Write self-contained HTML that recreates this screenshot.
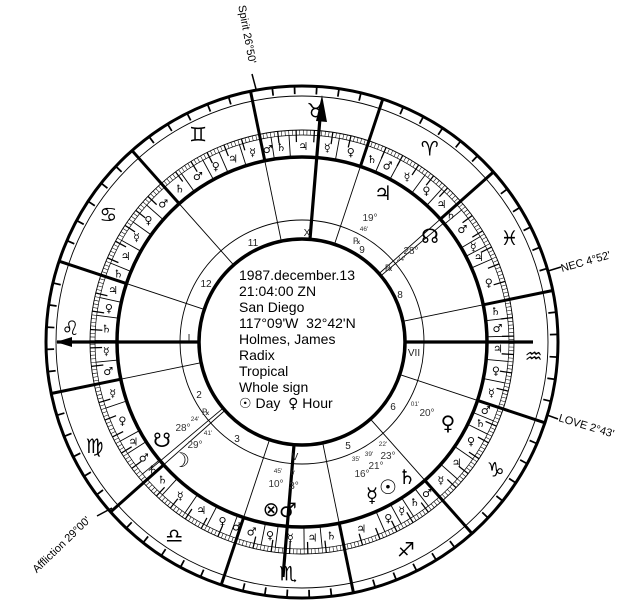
<!DOCTYPE html>
<html><head><meta charset="utf-8"><style>
html,body{margin:0;padding:0;background:#fff;width:641px;height:614px;overflow:hidden;}
svg{display:block;font-family:"Liberation Sans","DejaVu Sans",sans-serif;}
.g{font-family:"DejaVu Sans",sans-serif;}
</style></head><body>
<svg width="641" height="614" viewBox="0 0 641 614" xmlns="http://www.w3.org/2000/svg">
<defs>
<line id="sb" x1="185" y1="0" x2="256" y2="0" stroke="#000" stroke-width="3"/>
<line id="hc" x1="103" y1="0" x2="185" y2="0" stroke="#000" stroke-width="0.9"/>
<line id="td" x1="185" y1="0" x2="207" y2="0" stroke="#000" stroke-width="0.9"/>
</defs>
<g fill="none" stroke="#000">
<circle cx="302" cy="342" r="256" stroke-width="3"/>
<circle cx="302" cy="342" r="246" stroke-width="0.9"/>
<circle cx="302" cy="342" r="212" stroke-width="0.9"/>
<circle cx="302" cy="342" r="207" stroke-width="0.7"/>
<circle cx="302" cy="342" r="185" stroke-width="3.5"/>
<circle cx="302" cy="342" r="122" stroke-width="0.9"/>
<circle cx="302" cy="342" r="103" stroke-width="3.5"/>
<circle cx="302" cy="342" r="209.5" stroke-width="5" pathLength="360" stroke-dasharray="0.15 0.85" stroke-dashoffset="-0.33"/>
<circle cx="302" cy="342" r="206" stroke-width="12" pathLength="360" stroke-dasharray="0.35 4.65" stroke-dashoffset="-3.23"/>
<circle cx="302" cy="342" r="252" stroke-width="8" pathLength="360" stroke-dasharray="0.4 4.6" stroke-dashoffset="-3.2"/>
</g>
<g transform="translate(302 342) rotate(-41.6)">
<use href="#sb" transform="rotate(0)"/><use href="#sb" transform="rotate(-30)"/><use href="#sb" transform="rotate(-60)"/><use href="#sb" transform="rotate(-90)"/><use href="#sb" transform="rotate(-120)"/><use href="#sb" transform="rotate(-150)"/><use href="#sb" transform="rotate(-180)"/><use href="#sb" transform="rotate(-210)"/><use href="#sb" transform="rotate(-240)"/><use href="#sb" transform="rotate(-270)"/><use href="#sb" transform="rotate(-300)"/><use href="#sb" transform="rotate(-330)"/>
<use href="#hc" transform="rotate(0)"/><use href="#hc" transform="rotate(-30)"/><use href="#hc" transform="rotate(-60)"/><use href="#hc" transform="rotate(-90)"/><use href="#hc" transform="rotate(-120)"/><use href="#hc" transform="rotate(-150)"/><use href="#hc" transform="rotate(-180)"/><use href="#hc" transform="rotate(-210)"/><use href="#hc" transform="rotate(-240)"/><use href="#hc" transform="rotate(-270)"/><use href="#hc" transform="rotate(-300)"/><use href="#hc" transform="rotate(-330)"/>
<use href="#td" transform="rotate(-6)"/><use href="#td" transform="rotate(-12)"/><use href="#td" transform="rotate(-20)"/><use href="#td" transform="rotate(-25)"/>
<use href="#td" transform="rotate(-38)"/><use href="#td" transform="rotate(-44)"/><use href="#td" transform="rotate(-52)"/><use href="#td" transform="rotate(-57)"/>
<use href="#td" transform="rotate(-66)"/><use href="#td" transform="rotate(-72)"/><use href="#td" transform="rotate(-77)"/><use href="#td" transform="rotate(-84)"/>
<use href="#td" transform="rotate(-97)"/><use href="#td" transform="rotate(-103)"/><use href="#td" transform="rotate(-109)"/><use href="#td" transform="rotate(-116)"/>
<use href="#td" transform="rotate(-126)"/><use href="#td" transform="rotate(-131)"/><use href="#td" transform="rotate(-138)"/><use href="#td" transform="rotate(-144)"/>
<use href="#td" transform="rotate(-157)"/><use href="#td" transform="rotate(-167)"/><use href="#td" transform="rotate(-171)"/><use href="#td" transform="rotate(-178)"/>
<use href="#td" transform="rotate(-186)"/><use href="#td" transform="rotate(-194)"/><use href="#td" transform="rotate(-201)"/><use href="#td" transform="rotate(-208)"/>
<use href="#td" transform="rotate(-217)"/><use href="#td" transform="rotate(-221)"/><use href="#td" transform="rotate(-229)"/><use href="#td" transform="rotate(-234)"/>
<use href="#td" transform="rotate(-252)"/><use href="#td" transform="rotate(-257)"/><use href="#td" transform="rotate(-261)"/><use href="#td" transform="rotate(-266)"/>
<use href="#td" transform="rotate(-277)"/><use href="#td" transform="rotate(-284)"/><use href="#td" transform="rotate(-292)"/><use href="#td" transform="rotate(-296)"/>
<use href="#td" transform="rotate(-307)"/><use href="#td" transform="rotate(-313)"/><use href="#td" transform="rotate(-320)"/><use href="#td" transform="rotate(-325)"/>
<use href="#td" transform="rotate(-342)"/><use href="#td" transform="rotate(-346)"/><use href="#td" transform="rotate(-349)"/><use href="#td" transform="rotate(-358)"/>
<line x1="103" y1="0" x2="185" y2="0" stroke="#000" stroke-width="0.9" transform="rotate(-358.4)"/>
<line x1="103" y1="0" x2="200" y2="0" stroke="#000" stroke-width="0.9" transform="rotate(-178.4)"/>
<g class="g" font-size="20" text-anchor="middle">
<text transform="rotate(-15) translate(232 0) rotate(56.6)" dy="0.35em">♈&#xFE0E;</text>
<text transform="rotate(-45) translate(232 0) rotate(86.6)" dy="0.35em">♉&#xFE0E;</text>
<text transform="rotate(-75) translate(232 0) rotate(116.6)" dy="0.35em">♊&#xFE0E;</text>
<text transform="rotate(-105) translate(232 0) rotate(146.6)" dy="0.35em">♋&#xFE0E;</text>
<text transform="rotate(-135) translate(232 0) rotate(176.6)" dy="0.35em">♌&#xFE0E;</text>
<text transform="rotate(-165) translate(232 0) rotate(206.6)" dy="0.35em">♍&#xFE0E;</text>
<text transform="rotate(-195) translate(232 0) rotate(236.6)" dy="0.35em">♎&#xFE0E;</text>
<text transform="rotate(-225) translate(232 0) rotate(266.6)" dy="0.35em">♏&#xFE0E;</text>
<text transform="rotate(-255) translate(232 0) rotate(296.6)" dy="0.35em">♐&#xFE0E;</text>
<text transform="rotate(-285) translate(232 0) rotate(326.6)" dy="0.35em">♑&#xFE0E;</text>
<text transform="rotate(-315) translate(232 0) rotate(356.6)" dy="0.35em">♒&#xFE0E;</text>
<text transform="rotate(-345) translate(232 0) rotate(386.6)" dy="0.35em">♓&#xFE0E;</text>
</g>
<g class="g" font-size="11" text-anchor="middle">
<text transform="rotate(-3) translate(196 0) rotate(44.6)" dy="0.35em">♃</text>
<text transform="rotate(-9) translate(196 0) rotate(50.6)" dy="0.35em">♀</text>
<text transform="rotate(-16) translate(196 0) rotate(57.6)" dy="0.35em">☿</text>
<text transform="rotate(-22.5) translate(196 0) rotate(64.1)" dy="0.35em">♂</text>
<text transform="rotate(-27.5) translate(196 0) rotate(69.1)" dy="0.35em">♄</text>
<text transform="rotate(-34) translate(196 0) rotate(75.6)" dy="0.35em">♀</text>
<text transform="rotate(-41) translate(196 0) rotate(82.6)" dy="0.35em">☿</text>
<text transform="rotate(-48) translate(196 0) rotate(89.6)" dy="0.35em">♃</text>
<text transform="rotate(-54.5) translate(196 0) rotate(96.1)" dy="0.35em">♄</text>
<text transform="rotate(-58.5) translate(196 0) rotate(100.1)" dy="0.35em">♂</text>
<text transform="rotate(-63) translate(196 0) rotate(104.6)" dy="0.35em">☿</text>
<text transform="rotate(-69) translate(196 0) rotate(110.6)" dy="0.35em">♃</text>
<text transform="rotate(-74.5) translate(196 0) rotate(116.1)" dy="0.35em">♀</text>
<text transform="rotate(-80.5) translate(196 0) rotate(122.1)" dy="0.35em">♂</text>
<text transform="rotate(-87) translate(196 0) rotate(128.6)" dy="0.35em">♄</text>
<text transform="rotate(-93.5) translate(196 0) rotate(135.1)" dy="0.35em">♂</text>
<text transform="rotate(-100) translate(196 0) rotate(141.6)" dy="0.35em">♀</text>
<text transform="rotate(-106) translate(196 0) rotate(147.6)" dy="0.35em">☿</text>
<text transform="rotate(-112.5) translate(196 0) rotate(154.1)" dy="0.35em">♃</text>
<text transform="rotate(-118) translate(196 0) rotate(159.6)" dy="0.35em">♄</text>
<text transform="rotate(-123) translate(196 0) rotate(164.6)" dy="0.35em">♃</text>
<text transform="rotate(-128.5) translate(196 0) rotate(170.1)" dy="0.35em">♀</text>
<text transform="rotate(-134.5) translate(196 0) rotate(176.1)" dy="0.35em">♄</text>
<text transform="rotate(-141) translate(196 0) rotate(182.6)" dy="0.35em">☿</text>
<text transform="rotate(-147) translate(196 0) rotate(188.6)" dy="0.35em">♂</text>
<text transform="rotate(-153.5) translate(196 0) rotate(195.1)" dy="0.35em">☿</text>
<text transform="rotate(-162) translate(196 0) rotate(203.6)" dy="0.35em">♀</text>
<text transform="rotate(-169) translate(196 0) rotate(210.6)" dy="0.35em">♃</text>
<text transform="rotate(-174.5) translate(196 0) rotate(216.1)" dy="0.35em">♂</text>
<text transform="rotate(-179) translate(196 0) rotate(220.6)" dy="0.35em">♄</text>
<text transform="rotate(-183) translate(196 0) rotate(224.6)" dy="0.35em">♄</text>
<text transform="rotate(-190) translate(196 0) rotate(231.6)" dy="0.35em">☿</text>
<text transform="rotate(-197.5) translate(196 0) rotate(239.1)" dy="0.35em">♃</text>
<text transform="rotate(-204.5) translate(196 0) rotate(246.1)" dy="0.35em">♀</text>
<text transform="rotate(-209) translate(196 0) rotate(250.6)" dy="0.35em">♂</text>
<text transform="rotate(-213.5) translate(196 0) rotate(255.1)" dy="0.35em">♂</text>
<text transform="rotate(-219) translate(196 0) rotate(260.6)" dy="0.35em">♀</text>
<text transform="rotate(-225) translate(196 0) rotate(266.6)" dy="0.35em">☿</text>
<text transform="rotate(-231.5) translate(196 0) rotate(273.1)" dy="0.35em">♃</text>
<text transform="rotate(-237) translate(196 0) rotate(278.6)" dy="0.35em">♄</text>
<text transform="rotate(-246) translate(196 0) rotate(287.6)" dy="0.35em">♃</text>
<text transform="rotate(-254.5) translate(196 0) rotate(296.1)" dy="0.35em">♀</text>
<text transform="rotate(-259) translate(196 0) rotate(300.6)" dy="0.35em">☿</text>
<text transform="rotate(-263.5) translate(196 0) rotate(305.1)" dy="0.35em">♄</text>
<text transform="rotate(-268) translate(196 0) rotate(309.6)" dy="0.35em">♂</text>
<text transform="rotate(-273.5) translate(196 0) rotate(315.1)" dy="0.35em">☿</text>
<text transform="rotate(-280.5) translate(196 0) rotate(322.1)" dy="0.35em">♃</text>
<text transform="rotate(-288) translate(196 0) rotate(329.6)" dy="0.35em">♀</text>
<text transform="rotate(-294) translate(196 0) rotate(335.6)" dy="0.35em">♄</text>
<text transform="rotate(-298) translate(196 0) rotate(339.6)" dy="0.35em">♂</text>
<text transform="rotate(-303.5) translate(196 0) rotate(345.1)" dy="0.35em">☿</text>
<text transform="rotate(-310) translate(196 0) rotate(351.6)" dy="0.35em">♀</text>
<text transform="rotate(-316.5) translate(196 0) rotate(358.1)" dy="0.35em">♃</text>
<text transform="rotate(-322.5) translate(196 0) rotate(364.1)" dy="0.35em">♂</text>
<text transform="rotate(-327.5) translate(196 0) rotate(369.1)" dy="0.35em">♄</text>
<text transform="rotate(-336) translate(196 0) rotate(377.6)" dy="0.35em">♀</text>
<text transform="rotate(-344) translate(196 0) rotate(385.6)" dy="0.35em">♃</text>
<text transform="rotate(-347.5) translate(196 0) rotate(389.1)" dy="0.35em">☿</text>
<text transform="rotate(-353.5) translate(196 0) rotate(395.1)" dy="0.35em">♂</text>
<text transform="rotate(-359) translate(196 0) rotate(400.6)" dy="0.35em">♄</text>
</g>
</g>
<g stroke="#000" stroke-width="3.2">
<line x1="199" y1="342" x2="57" y2="342"/>
<line x1="405" y1="342" x2="533" y2="342"/>
<line x1="310" y1="239" x2="321" y2="106"/>
<line x1="294" y1="445" x2="283" y2="577"/>
</g>
<polygon points="56,342 72,337 72,347" fill="#000"/>
<polygon points="322,95 316,121 327,122" fill="#000"/>
<g font-size="10" fill="#222" text-anchor="middle">
<text x="253" y="246">11</text>
<text x="206" y="287">12</text>
<text x="199" y="398">2</text>
<text x="237" y="442">3</text>
<text x="348" y="449">5</text>
<text x="393" y="410">6</text>
<text x="400" y="298">8</text>
<text x="362" y="253">9</text>
<text x="189" y="341">I</text>
<text x="307" y="236">X</text>
<text x="414" y="356">VII</text>
<text x="295" y="460">V</text>
</g>
<g class="g" font-size="20" text-anchor="middle">
<text x="383" y="200">♃</text>
<text x="430" y="243">☊</text>
<text x="162" y="447">☋</text>
<text x="181" y="467">☽</text>
<text x="448" y="430">♀</text>
<text x="407" y="484">♄</text>
<text x="388" y="494">☉</text>
<text x="372" y="502">☿</text>
<text x="271" y="516">⊗</text>
<text x="288" y="517">♂</text>
</g>
<g font-size="10" fill="#333" text-anchor="middle">
<text x="370" y="221">19°</text>
<text x="411" y="254">28°</text>
<text x="183" y="431">28°</text>
<text x="195" y="448">29°</text>
<text x="427" y="416">20°</text>
<text x="388" y="459">23°</text>
<text x="376" y="469">21°</text>
<text x="362" y="477">16°</text>
<text x="276" y="487">10°</text>
<text x="294" y="489">3°</text>
</g>
<g font-size="6.5" fill="#333" text-anchor="middle">
<text x="364" y="231">46'</text>
<text x="401" y="261">24'</text>
<text x="195" y="421">24'</text>
<text x="208" y="435">41'</text>
<text x="415" y="406">01'</text>
<text x="383" y="446">22'</text>
<text x="369" y="456">39'</text>
<text x="356" y="461">35'</text>
<text x="278" y="473">45'</text>
<text x="293" y="475">0'</text>
</g>
<g font-size="9" fill="#333" text-anchor="middle">
<text x="357" y="244">℞</text>
<text x="389" y="271">℞</text>
<text x="206" y="415">℞</text>
</g>
<g font-size="14" fill="#000">
<text x="239" y="280">1987.december.13</text>
<text x="239" y="296">21:04:00 ZN</text>
<text x="239" y="312">San Diego</text>
<text x="239" y="328">117°09'W&#160; 32°42'N</text>
<text x="239" y="344">Holmes, James</text>
<text x="239" y="360">Radix</text>
<text x="239" y="376">Tropical</text>
<text x="239" y="392">Whole sign</text>
<text x="239" y="408"><tspan class="g">☉</tspan> Day&#160; <tspan class="g">♀</tspan> Hour</text>
</g>
<g stroke="#000" stroke-width="1.5">
<line x1="256" y1="89" x2="252" y2="74"/>
<line x1="548" y1="271" x2="561" y2="267"/>
<line x1="547" y1="415" x2="558" y2="419"/>
<line x1="112" y1="508" x2="97" y2="516"/>
</g>
<g font-size="11" fill="#000">
<text transform="translate(249 64) rotate(79.5)" text-anchor="end">Spirit 26°50'</text>
<text transform="translate(562 272) rotate(-15.8)">NEC 4°52'</text>
<text transform="translate(558 421) rotate(16.7)">LOVE 2°43'</text>
<text transform="translate(91 521) rotate(-44)" text-anchor="end">Affliction 29°00'</text>
</g>
</svg>
</body></html>
